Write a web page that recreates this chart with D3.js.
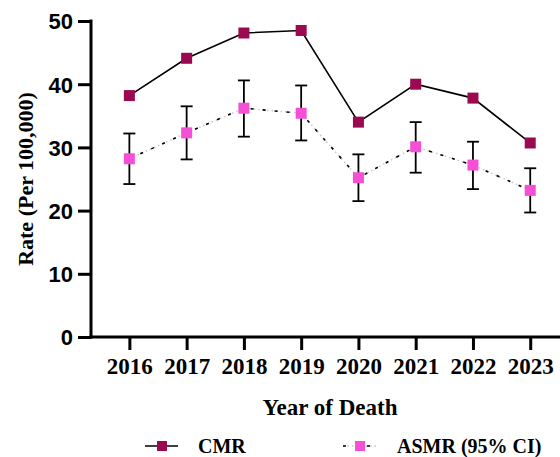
<!DOCTYPE html>
<html><head><meta charset="utf-8">
<script src="https://cdn.jsdelivr.net/npm/d3@7"></script>
<style>body{margin:0;background:#fff}svg{display:block}</style>
</head><body>
<script>
const years = [2016, 2017, 2018, 2019, 2020, 2021, 2022, 2023];
const cmr = [38.2, 44.1, 48.1, 48.5, 34.0, 40.0, 37.8, 30.7];
const asmr = [28.2, 32.3, 36.2, 35.4, 25.2, 30.1, 27.2, 23.2];
const asmrLow = [24.2, 28.1, 31.7, 31.1, 21.5, 26.0, 23.4, 19.7];
const asmrHigh = [32.2, 36.5, 40.6, 39.8, 28.9, 34.0, 30.9, 26.7];
const yTicks = [0, 10, 20, 30, 40, 50];
const seriesNames = ["CMR", "ASMR (95% CI)"];
const colors = ["#9b0a50", "#f54fd6"];

const W = 560, H = 457;
const serif = "Liberation Serif, Times New Roman, serif";
const svg = d3.select("body").append("svg").attr("width", W).attr("height", H);

const x = d3.scaleLinear().domain([2015.33, 2023.52]).range([91, 560]);
const y = d3.scaleLinear().domain([0, 50]).range([337, 21]);

// Y axis
const yAxis = svg.append("g").attr("transform", "translate(91,0)")
  .call(d3.axisLeft(y).tickValues(yTicks).tickSize(13).tickPadding(5));
yAxis.select(".domain").attr("stroke-width", 3).attr("d", `M0,${y(50)-1.5}V${y(0)+1.5}`);
yAxis.selectAll(".tick line").attr("stroke-width", 3);
yAxis.selectAll(".tick text").attr("font-family", "Liberation Sans, Arial, sans-serif")
  .attr("font-weight", "bold").attr("font-size", 22).attr("fill", "#000").attr("dy", "0.36em");

// X axis
const xAxis = svg.append("g").attr("transform", "translate(0,337)")
  .call(d3.axisBottom(x).tickValues(years).tickFormat(d3.format("d")).tickSize(13).tickPadding(8));
xAxis.select(".domain").attr("stroke-width", 3).attr("d", `M${91-1.5},0H${W}`);
xAxis.selectAll(".tick line").attr("stroke-width", 3);
xAxis.selectAll(".tick text").attr("font-family", serif)
  .attr("font-weight", "bold").attr("font-size", 23).attr("fill", "#000");

// Titles
svg.append("text").attr("x", 330).attr("y", 415).attr("text-anchor", "middle")
  .attr("font-family", serif).attr("font-weight", "bold")
  .attr("font-size", 23).text("Year of Death");
svg.append("text").attr("transform", "translate(33,179) rotate(-90)").attr("text-anchor", "middle")
  .attr("font-family", serif).attr("font-weight", "bold")
  .attr("font-size", 22).text("Rate (Per 100,000)");

const line = d3.line().x((d, i) => x(years[i])).y(d => y(d));

// CMR line
svg.append("path").datum(cmr).attr("d", line).attr("fill", "none").attr("stroke", "#000").attr("stroke-width", 1.6);

// ASMR line (dotted, alternating)
svg.append("path").datum(asmr).attr("d", line).attr("fill", "none").attr("stroke", "#c8c8c8")
  .attr("stroke-width", 1.5).attr("stroke-dasharray", "1.5,3");
svg.append("path").datum(asmr).attr("d", line).attr("fill", "none").attr("stroke", "#000")
  .attr("stroke-width", 1.6).attr("stroke-dasharray", "3,9");

// Error bars
const eb = svg.append("g").attr("stroke", "#000").attr("stroke-width", 1.8);
years.forEach((yr, i) => {
  const cx = x(yr);
  eb.append("line").attr("x1", cx).attr("x2", cx).attr("y1", y(asmrHigh[i])).attr("y2", y(asmrLow[i]));
  eb.append("line").attr("x1", cx - 6).attr("x2", cx + 6).attr("y1", y(asmrHigh[i])).attr("y2", y(asmrHigh[i]));
  eb.append("line").attr("x1", cx - 6).attr("x2", cx + 6).attr("y1", y(asmrLow[i])).attr("y2", y(asmrLow[i]));
});

const ms = 11;
svg.append("g").selectAll("rect").data(cmr).join("rect")
  .attr("x", (d, i) => x(years[i]) - ms / 2).attr("y", d => y(d) - ms / 2)
  .attr("width", ms).attr("height", ms).attr("fill", colors[0]);
svg.append("g").selectAll("rect").data(asmr).join("rect")
  .attr("x", (d, i) => x(years[i]) - ms / 2).attr("y", d => y(d) - ms / 2)
  .attr("width", ms).attr("height", ms).attr("fill", colors[1]);

// Legend
const ly = 446;
const lg1 = svg.append("g");
lg1.append("line").attr("x1", 145).attr("x2", 178).attr("y1", ly).attr("y2", ly).attr("stroke", "#000").attr("stroke-width", 1.6);
lg1.append("rect").attr("x", 157).attr("y", ly - 5).attr("width", 10).attr("height", 10).attr("fill", colors[0]);
lg1.append("text").attr("x", 198).attr("y", 453).attr("font-family", serif)
  .attr("font-weight", "bold").attr("font-size", 20).text(seriesNames[0]);

const lg2 = svg.append("g");
lg2.append("line").attr("x1", 343).attr("x2", 376).attr("y1", ly).attr("y2", ly).attr("stroke", "#c8c8c8")
  .attr("stroke-width", 1.5).attr("stroke-dasharray", "1.5,3");
lg2.append("line").attr("x1", 343).attr("x2", 376).attr("y1", ly).attr("y2", ly).attr("stroke", "#000")
  .attr("stroke-width", 1.6).attr("stroke-dasharray", "3,9");
lg2.append("rect").attr("x", 355).attr("y", ly - 5).attr("width", 10).attr("height", 10).attr("fill", colors[1]);
lg2.append("text").attr("x", 397).attr("y", 453).attr("font-family", serif)
  .attr("font-weight", "bold").attr("font-size", 20).text(seriesNames[1]);
</script>
</body></html>
